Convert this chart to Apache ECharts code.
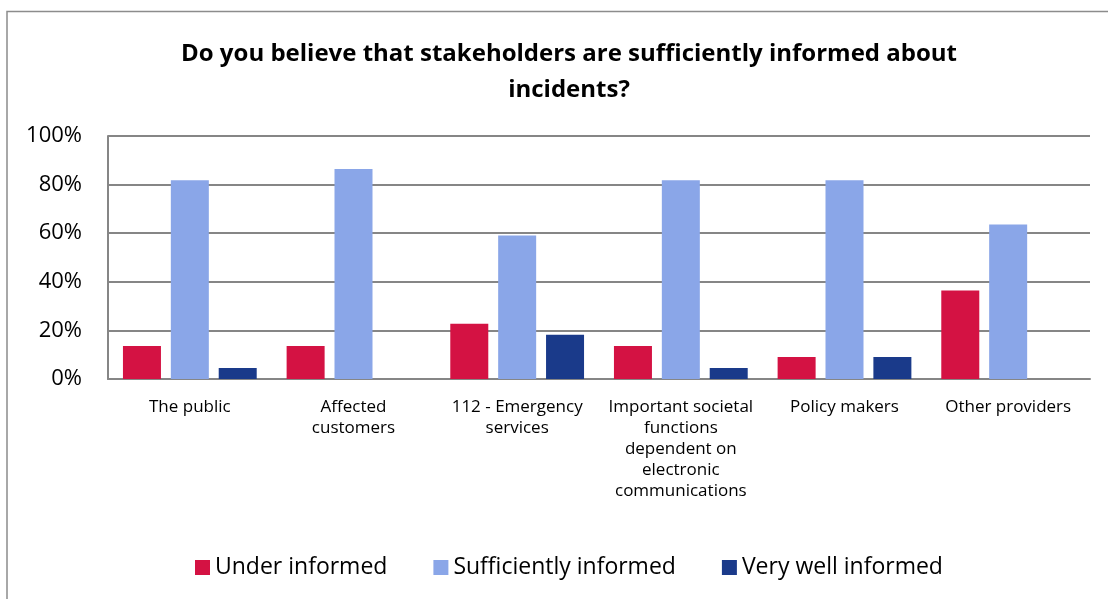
<!DOCTYPE html>
<html>
<head>
<meta charset="utf-8">
<script src="https://cdn.jsdelivr.net/npm/echarts@6/dist/echarts.min.js"></script>
<style>
  html, body { margin: 0; padding: 0; background: #fff; }
  #chart { width: 1108px; height: 599px; }
</style>
</head>
<body>
<div id="chart"></div>
<script>
// Survey responses per stakeholder group (share of respondents, %)
const categories = [
  'The public',
  'Affected\ncustomers',
  '112 - Emergency\nservices',
  'Important societal\nfunctions\ndependent on\nelectronic\ncommunications',
  'Policy makers',
  'Other providers'
];
const underInformed = [13.6, 13.6, 22.7, 13.6, 9.1, 36.4];
const sufficientlyInformed = [81.8, 86.4, 59.1, 81.8, 81.8, 63.6];
const veryWellInformed = [4.5, 0, 18.2, 4.5, 9.1, 0];
const seriesNames = ['Under informed', 'Sufficiently informed', 'Very well informed'];
const yTicks = [0, 20, 40, 60, 80, 100];

const FONT = '"Open Sans", "Liberation Sans", sans-serif';
const colors = ['#D41243', '#8AA6E8', '#1A3A8A'];

const chart = echarts.init(document.getElementById('chart'), null, { renderer: 'canvas' });

function barSeries(name, data, color) {
  return {
    name: name,
    type: 'bar',
    data: data,
    barWidth: 38,
    barGap: '26%',
    itemStyle: { color: color },
    emphasis: { disabled: true }
  };
}

chart.setOption({
  animation: false,
  textStyle: { fontFamily: FONT },
  graphic: [
    {
      type: 'polyline',
      shape: { points: [[7, 599], [7, 11.5], [1108, 11.5]] },
      style: { stroke: '#8c8c8c', lineWidth: 1.5, fill: null },
      silent: true
    }
  ],
  title: {
    text: 'Do you believe that stakeholders are sufficiently informed about\nincidents?',
    left: 564,
    textAlign: 'center',
    top: 31,
    textStyle: {
      fontFamily: FONT,
      fontWeight: 'bold',
      fontSize: 24,
      lineHeight: 36,
      color: '#000'
    }
  },
  legend: {
    data: seriesNames,
    bottom: 15,
    left: 190,
    itemWidth: 15,
    itemHeight: 15,
    itemGap: 46,
    icon: 'rect',
    textStyle: { fontFamily: FONT, fontSize: 23, color: '#000' }
  },
  grid: {
    left: 108,
    right: 18,
    top: 136,
    bottom: 220,
    containLabel: false
  },
  xAxis: {
    type: 'category',
    data: categories,
    axisLine: { lineStyle: { color: '#868686', width: 2 } },
    axisTick: { show: false },
    axisLabel: {
      interval: 0,
      margin: 18,
      fontFamily: FONT,
      fontSize: 17,
      lineHeight: 21,
      color: '#000',
      align: 'center'
    }
  },
  yAxis: {
    type: 'value',
    min: yTicks[0],
    max: yTicks[yTicks.length - 1],
    interval: 20,
    axisLine: { show: true, lineStyle: { color: '#868686', width: 2 } },
    axisTick: { show: false },
    splitLine: { lineStyle: { color: '#868686', width: 2 } },
    axisLabel: {
      margin: 26,
      fontFamily: FONT,
      fontSize: 22,
      color: '#000',
      formatter: v => v + '%'
    }
  },
  series: [
    barSeries(seriesNames[0], underInformed, colors[0]),
    barSeries(seriesNames[1], sufficientlyInformed, colors[1]),
    barSeries(seriesNames[2], veryWellInformed, colors[2])
  ]
});
</script>
</body>
</html>
